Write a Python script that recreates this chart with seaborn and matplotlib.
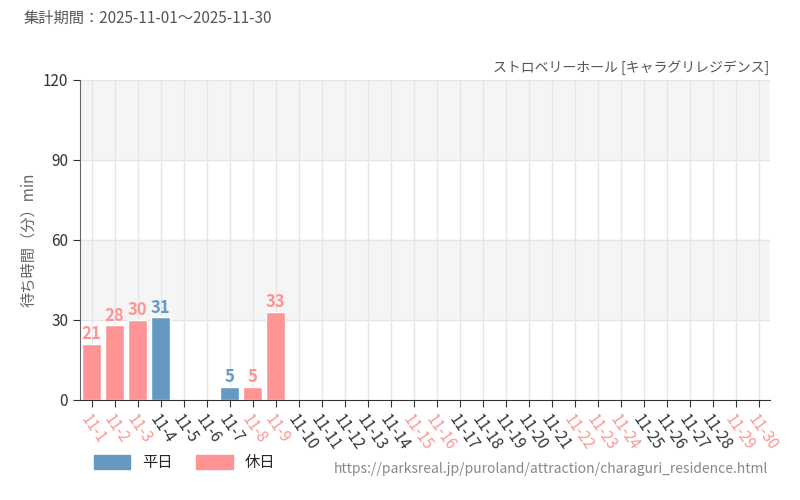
import matplotlib
matplotlib.use("Agg")
import matplotlib.pyplot as plt
import matplotlib.patches as mpatches
import seaborn as sns
import pandas as pd

days = [f"11-{d}" for d in range(1, 31)]
waits = [21, 28, 30, 31, 0, 0, 5, 5, 33] + [0] * 21
holidays = ["11-1", "11-2", "11-3", "11-8", "11-9", "11-15", "11-16", "11-22",
            "11-23", "11-24", "11-29", "11-30"]

BLUE = "#6699c2"
RED = "#ff9494"
df = pd.DataFrame({"day": days, "wait": waits})
df["kind"] = ["休日" if d in holidays else "平日" for d in days]

sns.set_style("white")
plt.rcParams["font.family"] = ["Noto Sans CJK JP", "DejaVu Sans"]

fig = plt.figure(figsize=(8, 5), dpi=100)
ax = fig.add_axes([0.1, 0.2, 0.8625, 0.64])

for lo in (30, 90):
    ax.axhspan(lo, lo + 30, color="#f5f5f5", zorder=0)
for i in range(len(days)):
    ax.axvline(i, color="#e6e6e6", lw=1, zorder=0.5)
for y in (30, 60, 90, 120):
    ax.axhline(y, color="#e6e6e6", lw=1, zorder=0.5)

sns.barplot(data=df, x="day", y="wait", hue="kind", palette={"平日": BLUE, "休日": RED},
            dodge=False, width=0.85, saturation=1, legend=False, ax=ax, zorder=2)

for i, (d, w) in enumerate(zip(days, waits)):
    if w > 0:
        c = RED if d in holidays else BLUE
        ax.text(i, w + 0.3, str(w), ha="center", va="bottom", color=c, fontsize=12,
                fontweight="bold", family=["Liberation Sans Narrow", "Noto Sans CJK JP"])

ax.set_xlim(-0.5, 29.5)
ax.set_ylim(0, 120)
ax.set_yticks([0, 30, 60, 90, 120])
ax.tick_params(axis="y", labelsize=11, colors="#333333", length=5, left=True)
ax.tick_params(axis="x", length=5, bottom=True, colors="#333333")
ax.set_xticks(range(len(days)))
ax.set_xticklabels(days, rotation=-55, ha="left", rotation_mode="anchor", fontsize=11)
for lab, d in zip(ax.get_xticklabels(), days):
    lab.set_color(RED if d in holidays else "#333333")
ax.set_xlabel("")
ax.set_ylabel("待ち時間（分）min", fontsize=11, color="#666666")
for s in ("top", "right"):
    ax.spines[s].set_visible(False)
ax.spines["left"].set_color("#666666")
ax.spines["bottom"].set_color("#333333")

fig.text(0.03, 0.955, "集計期間：2025-11-01～2025-11-30", fontsize=11, color="#555555")
fig.text(0.962, 0.855, "ストロベリーホール [キャラグリレジデンス]", fontsize=10, color="#555555", ha="right")
fig.text(0.96, 0.055, "https://parksreal.jp/puroland/attraction/charaguri_residence.html",
         fontsize=10, color="#888888", ha="right")
h = [mpatches.Patch(color=BLUE, label="平日"), mpatches.Patch(color=RED, label="休日")]
fig.legend(handles=h, loc="lower left", bbox_to_anchor=(0.1, 0.03), ncol=2, frameon=False,
           fontsize=11, handlelength=2.4, handleheight=1, columnspacing=1.5)

fig.savefig("out.png", dpi=100)
